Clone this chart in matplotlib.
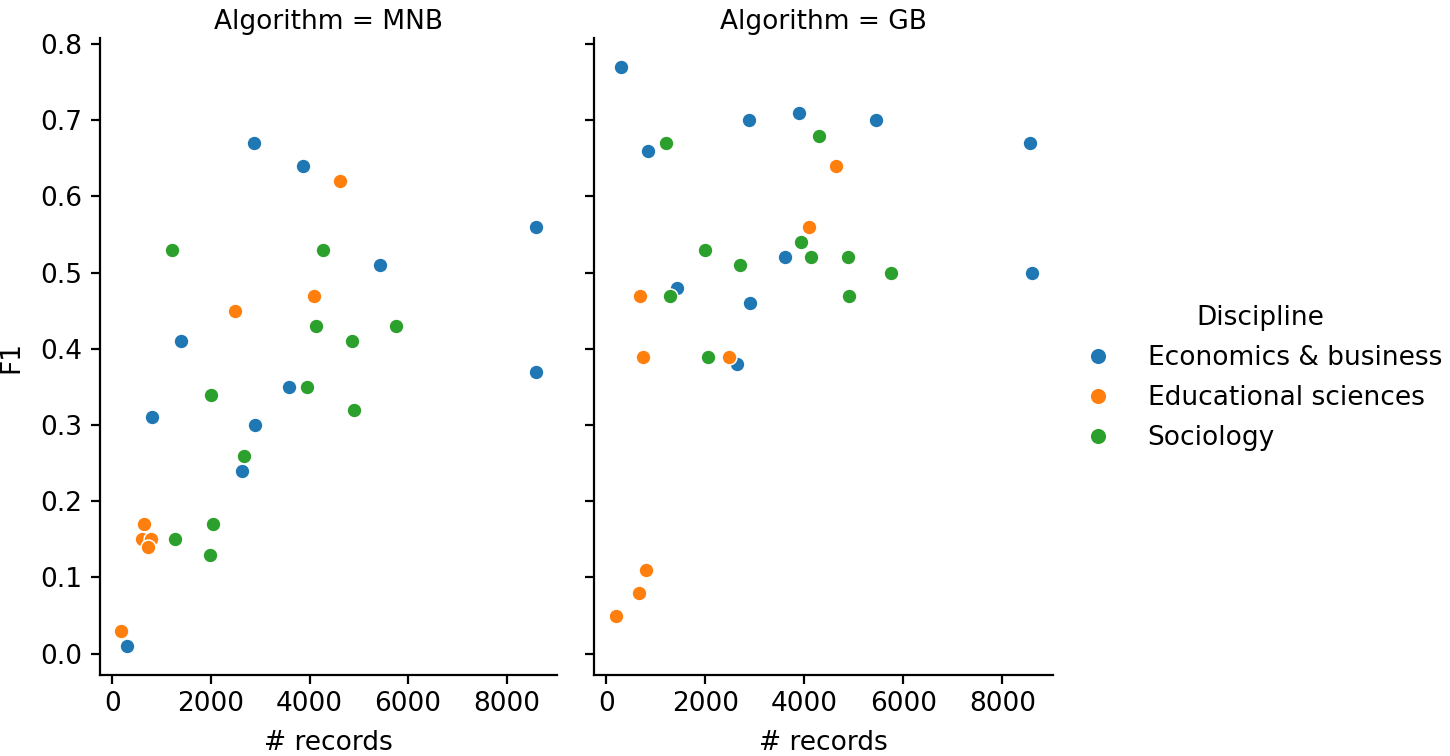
import matplotlib
matplotlib.use("Agg")
import matplotlib.pyplot as plt
from matplotlib.lines import Line2D

disciplines = ["Economics & business", "Educational sciences", "Sociology"]
colors = ["#1f77b4", "#ff7f0e", "#2ca02c"]
algorithms = ["MNB", "GB"]

# MNB panel
mnb_econ_x = [2880, 3870, 8590, 5430, 1400, 3590, 8600, 800, 2900, 2620, 290]
mnb_econ_y = [0.67, 0.64, 0.56, 0.51, 0.41, 0.35, 0.37, 0.31, 0.30, 0.24, 0.01]
mnb_edu_x = [4620, 4100, 2480, 640, 610, 790, 730, 170]
mnb_edu_y = [0.62, 0.47, 0.45, 0.17, 0.15, 0.15, 0.14, 0.03]
mnb_soc_x = [1200, 4270, 4130, 5760, 4860, 3950, 2010, 4910, 2680, 2040, 1280, 1990]
mnb_soc_y = [0.53, 0.53, 0.43, 0.43, 0.41, 0.35, 0.34, 0.32, 0.26, 0.17, 0.15, 0.13]

# GB panel
gb_econ_x = [300, 2890, 3890, 5440, 830, 8560, 8600, 3610, 1430, 2900, 2640]
gb_econ_y = [0.77, 0.70, 0.71, 0.70, 0.66, 0.67, 0.50, 0.52, 0.48, 0.46, 0.38]
gb_edu_x = [4630, 4100, 670, 740, 2480, 800, 650, 200]
gb_edu_y = [0.64, 0.56, 0.47, 0.39, 0.39, 0.11, 0.08, 0.05]
gb_soc_x = [1210, 4290, 2000, 3940, 4130, 4870, 2690, 5750, 1290, 4910, 2060]
gb_soc_y = [0.67, 0.68, 0.53, 0.54, 0.52, 0.52, 0.51, 0.50, 0.47, 0.47, 0.39]

panels = {
    "MNB": [(mnb_econ_x, mnb_econ_y), (mnb_edu_x, mnb_edu_y), (mnb_soc_x, mnb_soc_y)],
    "GB": [(gb_econ_x, gb_econ_y), (gb_edu_x, gb_edu_y), (gb_soc_x, gb_soc_y)],
}

FS = 19
plt.rcParams.update({
    "font.family": ["DejaVu Sans"],
    "font.size": FS,
    "axes.linewidth": 1.6,
    "xtick.major.width": 1.6,
    "ytick.major.width": 1.6,
    "xtick.major.size": 6.5,
    "ytick.major.size": 6.5,
    "xtick.major.pad": 5,
    "ytick.major.pad": 6.5,
})

W, H = 1450, 756
fig = plt.figure(figsize=(W / 100, H / 100), dpi=100)
bottom = (H - 675) / H
height = (675 - 38) / H
ax1 = fig.add_axes([100 / W, bottom, 457 / W, height])
ax2 = fig.add_axes([594 / W, bottom, 459 / W, height], sharex=ax1, sharey=ax1)

for ax, alg in zip([ax1, ax2], algorithms):
    for (xs, ys), c in zip(panels[alg], colors):
        ax.scatter(xs, ys, s=115, color=c, edgecolor="white", linewidth=1.1, zorder=3)
    ax.spines["top"].set_visible(False)
    ax.spines["right"].set_visible(False)
    ax.set_title(f"Algorithm = {alg}", fontsize=FS, pad=6.5)
    ax.set_xlabel("# records", fontsize=FS, labelpad=9.5)
    ax.tick_params(labelsize=FS)

ax1.set_ylabel("F1", fontsize=FS, labelpad=11)
ax1.set_xticks([0, 2000, 4000, 6000, 8000])
ax1.set_yticks([0.0, 0.1, 0.2, 0.3, 0.4, 0.5, 0.6, 0.7, 0.8])
ax1.set_xlim(-251, 9021)
ax1.set_ylim(-0.028, 0.808)
plt.setp(ax2.get_yticklabels(), visible=False)

handles = [Line2D([], [], marker="o", linestyle="", markersize=12, markerfacecolor=c,
                  markeredgecolor="white", markeredgewidth=1.1) for c in colors]
leg = fig.legend(handles, disciplines, title="Discipline", loc="center left",
                 bbox_to_anchor=(1054 / W, 0.5), frameon=False, fontsize=FS,
                 title_fontsize=FS, handletextpad=1.15, labelspacing=0.53,
                 handlelength=1.5)

fig.savefig("out.png", dpi=100)
